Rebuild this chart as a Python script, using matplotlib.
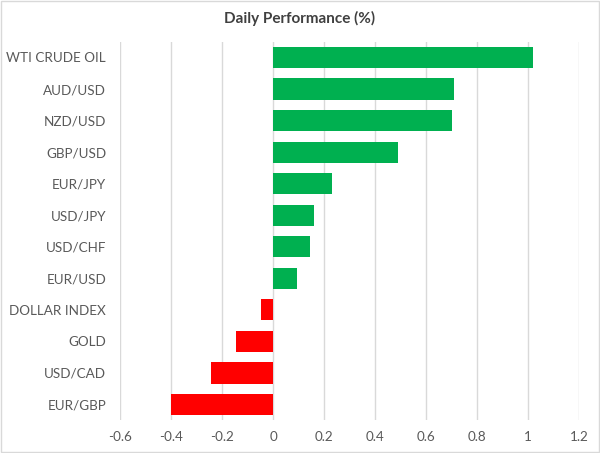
import matplotlib
matplotlib.use("Agg")
import matplotlib.pyplot as plt

categories = ["WTI CRUDE OIL", "AUD/USD", "NZD/USD", "GBP/USD", "EUR/JPY", "USD/JPY",
              "USD/CHF", "EUR/USD", "DOLLAR INDEX", "GOLD", "USD/CAD", "EUR/GBP"]
values = [1.02, 0.71, 0.70, 0.49, 0.23, 0.16, 0.145, 0.093, -0.047, -0.145, -0.245, -0.40]
xticks = [-0.6, -0.4, -0.2, 0, 0.2, 0.4, 0.6, 0.8, 1, 1.2]
xtick_labels = ["-0.6", "-0.4", "-0.2", "0", "0.2", "0.4", "0.6", "0.8", "1", "1.2"]

plt.rcParams['font.family'] = ['Lato', 'DejaVu Sans']

fig = plt.figure(figsize=(6, 4.53), dpi=100)
top_px, bot_px = 41.7, 420.3
ax = fig.add_axes([0.2, 1 - bot_px / 453, 0.765, (bot_px - top_px) / 453])

colors = ["#00b050" if v >= 0 else "#ff0000" for v in values]
ypos = list(range(len(categories)))
ax.barh(ypos, values, height=0.67, color=colors, zorder=3)
ax.set_ylim(len(categories) - 0.5, -0.5)
ax.set_yticks(ypos)
ax.set_yticklabels(categories)
ax.set_xlim(-0.6, 1.2)
ax.set_xticks(xticks)
ax.set_xticklabels(xtick_labels)
ax.grid(axis='x', color='#d9d9d9', linewidth=1, zorder=0)
ax.tick_params(axis='both', length=0, labelsize=9.7, labelcolor='#595959')
ax.tick_params(axis='y', pad=10)
ax.tick_params(axis='x', pad=8)
for s in ax.spines.values():
    s.set_visible(False)

fig.text(0.5, 1 - 18 / 453, "Daily Performance (%)", ha='center', va='center',
         fontsize=11, fontweight='bold', color='#404040')

border = plt.Rectangle((0.0015, 0.002), 0.997, 0.996, transform=fig.transFigure,
                       fill=False, edgecolor='#d9d9d9', linewidth=1)
fig.patches.append(border)

fig.savefig("out.png", dpi=100)
